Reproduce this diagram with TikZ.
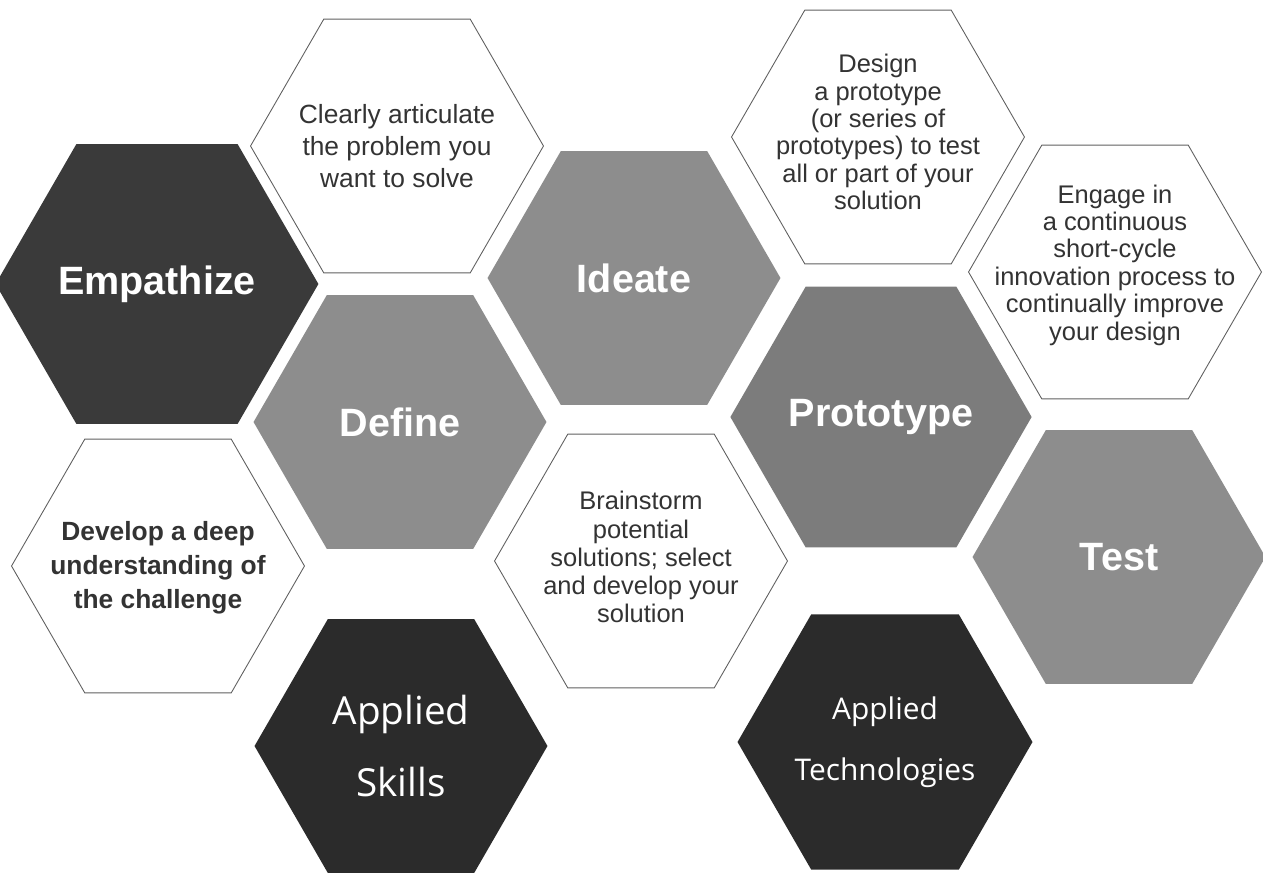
\documentclass[tikz,border=0pt]{standalone}
\usepackage{fontspec}
\setmainfont{Liberation Sans}
\newfontfamily\areafont{Open Sans}
\usetikzlibrary{shapes.geometric}

\definecolor{darkhex}{HTML}{3A3A3A}
\definecolor{blackhex}{HTML}{2B2B2B}
\definecolor{midhex}{HTML}{8D8D8D}
\definecolor{protohex}{HTML}{7C7C7C}
\definecolor{notetext}{HTML}{333333}

\tikzset{
    hexagon/.style = {regular polygon, regular polygon sides = 6, minimum size = 5.86cm, inner sep = 0pt},
    hexfill/.style = {hexagon, fill = #1},
    hexline/.style = {hexagon, draw = gray!75!black, line width = 0.5pt, fill = white},
    phase/.style = {text = white, font = \fontsize{22.5}{26}\selectfont\bfseries},
    note/.style = {text = notetext, align = center, font = \fontsize{14.5}{15.6}\selectfont},
    area/.style = {text = white, align = center}
}

\begin{document}
\begin{tikzpicture}[x = 0.02cm, y = -0.02cm]
    \useasboundingbox (0,0) rectangle (1263,883);

    % the five phases
    \node[hexfill = darkhex, phase] (empathize) at (157,284) {Empathize};
    \node[hexfill = midhex, phase] (define) at (400,422) {Define};
    \node[hexfill = midhex, phase] (ideate) at (634,278) {Ideate};
    \node[hexfill = protohex, phase] (prototype) at (881,417) {Prototype};
    \node[hexfill = midhex, phase] (test) at (1119,557) {Test};

    % what each phase means
    \node[hexline] (understand) at (158,566) {};
    \node[hexline] (clarify) at (397,146) {};
    \node[hexline] (brainstorm) at (641,561) {};
    \node[hexline] (design) at (878,137) {};
    \node[hexline] (engage) at (1115,272) {};

    \node[note, font = \fontsize{15}{19.3}\selectfont\bfseries] (understandtext) at (158,568)
        {Develop a deep\\understanding of\\the challenge};
    \node[note, font = \fontsize{15}{18}\selectfont] (clarifytext) at (397,146)
        {Clearly articulate\\the problem you\\want to solve};
    \node[note, font = \fontsize{14.5}{16}\selectfont] (brainstormtext) at (641,557)
        {Brainstorm\\potential\\solutions; select\\and develop your\\solution};
    \node[note] (designtext) at (878,132)
        {Design\\a prototype\\(or series of\\prototypes) to test\\all or part of your\\solution};
    \node[note] (engagetext) at (1115,265)
        {Engage in\\a continuous\\short-cycle\\innovation process to\\continually improve\\your design};

    % applied areas
    \node[hexfill = blackhex, area, font = \areafont\fontsize{22}{41}\selectfont] (skills) at (401,746)
        {Applied\\Skills};
    \node[hexfill = blackhex, area, font = \areafont\fontsize{17}{35}\selectfont] (technologies) at (885,742)
        {Applied\\Technologies};
\end{tikzpicture}
\end{document}
